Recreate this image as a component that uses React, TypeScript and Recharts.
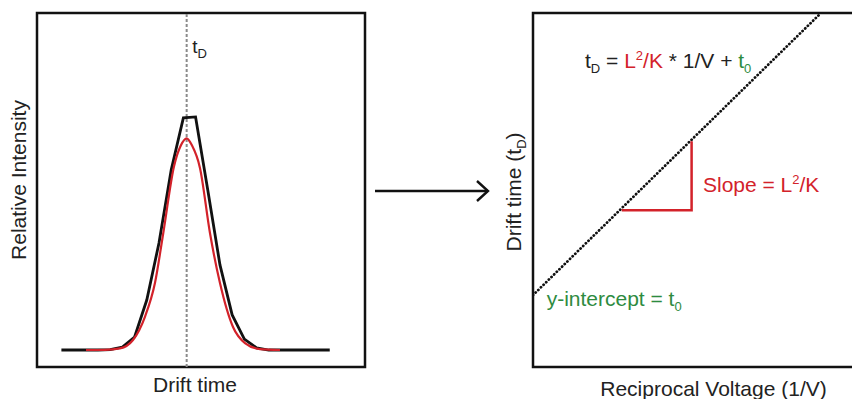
import React from "react";
import {
  LineChart,
  Line,
  XAxis,
  YAxis,
  ReferenceLine,
  ReferenceArea,
  ReferenceDot,
} from "recharts";

// left panel: drift time distribution (arbitrary units)
const peakTime = [2, 3, 4, 5, 6, 7, 8, 9, 10, 11, 12, 13, 14, 15, 16, 17, 18, 19, 20, 21, 22, 23, 24];
const peakMeasured = [0, 0, 0, 0, 0.002, 0.013, 0.056, 0.215, 0.46, 0.774, 0.998, 1.002, 0.688, 0.366, 0.151, 0.047, 0.009, 0, 0, 0, 0, 0, 0];
const fitTime = [4.02, 5.57, 6.8, 7.87, 8.85, 9.67, 10.35, 11.23, 11.8, 12.27, 12.7, 13.36, 14.18, 15.0, 16.07, 17.05, 18.28, 19.92];
const fitIntensity = [0, 0.001, 0.007, 0.043, 0.143, 0.288, 0.502, 0.789, 0.88, 0.91, 0.88, 0.783, 0.503, 0.288, 0.099, 0.03, 0.004, 0];
const tD = 12.27;

// right panel: drift time vs reciprocal voltage
const recipVoltage = [0, 8.86];
const driftTime = [2.03, 10];
const slopeX = [2.73, 4.88, 4.88];
const slopeY = [4.43, 4.43, 6.38];

const arrowX = [0, 1];
const arrowY = [0, 0];

const FONT = "'Liberation Sans', Arial, sans-serif";
const RED = "#d3222a";
const GREEN = "#2e8b3f";

const measured = peakTime.map((t, i) => ({ t, v: peakMeasured[i] }));
const fitted = fitTime.map((t, i) => ({ t, v: fitIntensity[i] }));
const fitLine = recipVoltage.map((x, i) => ({ x, y: driftTime[i] }));
const slopeTri = slopeX.map((x, i) => ({ x, y: slopeY[i] }));
const arrow = arrowX.map((x, i) => ({ x, y: arrowY[i] }));

// subscript, then whatever follows goes back to the baseline
const Sub = ({ children, fill, after }: any) => (
  <>
    <tspan fontSize={13} dy={5} fill={fill}>{children}</tspan>
    {after ? <tspan dy={-5}>{after}</tspan> : null}
  </>
);

function AxisTitle({ viewBox, text, dx = 0, dy = 0, vertical }: any) {
  if (!viewBox) return null;
  const x = viewBox.x + viewBox.width / 2 + dx;
  const y = viewBox.y + viewBox.height / 2 + dy;
  return (
    <text
      x={x}
      y={y}
      textAnchor="middle"
      fontSize={21}
      fontFamily={FONT}
      fill="#222"
      transform={vertical ? `rotate(-90 ${x} ${y})` : undefined}
    >
      {text}
    </text>
  );
}

function Note({ viewBox, children, fill = "#222", size = 21 }: any) {
  if (!viewBox) return null;
  return (
    <text x={viewBox.x} y={viewBox.y} fontSize={size} fontFamily={FONT} fill={fill}>
      {children}
    </text>
  );
}

function ArrowHead(props: any) {
  const { cx, cy, index } = props;
  if (index !== arrowX.length - 1) return <g key={`a${index}`} />;
  return (
    <path
      key={`a${index}`}
      d={`M${cx - 11},${cy - 10} L${cx},${cy} L${cx - 11},${cy + 10}`}
      stroke="#111"
      strokeWidth={2.4}
      fill="none"
    />
  );
}

export default function App() {
  return (
    <div
      style={{
        position: "absolute",
        left: 0,
        top: 0,
        width: 852,
        height: 399,
        overflow: "hidden",
        background: "#fff",
      }}
    >
      <div style={{ position: "absolute", left: 0, top: 0 }}>
        <LineChart width={380} height={399} margin={{ top: 13, right: 15, bottom: 0, left: 0 }}>
          <XAxis
            dataKey="t"
            type="number"
            domain={[0, 26.89]}
            allowDataOverflow
            height={32}
            tick={false}
            tickLine={false}
            axisLine={false}
            label={<AxisTitle text="Drift time" dx={-6} dy={9} />}
          />
          <YAxis
            type="number"
            domain={[-0.073, 1.449]}
            allowDataOverflow
            width={37}
            tick={false}
            tickLine={false}
            axisLine={false}
            label={<AxisTitle text="Relative Intensity" vertical dy={-10} dx={7} />}
          />
          <ReferenceArea
            x1={0}
            x2={26.89}
            y1={-0.073}
            y2={1.449}
            fill="none"
            stroke="#111"
            strokeWidth={2.5}
            fillOpacity={0}
            ifOverflow="visible"
          />
          <ReferenceLine x={tD} stroke="#8a8a8a" strokeWidth={2} strokeDasharray="3 2" />
          <ReferenceDot
            x={tD + 0.45}
            y={1.277}
            r={0}
            ifOverflow="visible"
            label={
              <Note size={19}>
                t<Sub>D</Sub>
              </Note>
            }
          />
          <Line
            data={measured}
            dataKey="v"
            type="linear"
            stroke="#111"
            strokeWidth={2.8}
            dot={false}
            activeDot={false}
            isAnimationActive={false}
          />
          <Line
            data={fitted}
            dataKey="v"
            type="monotone"
            stroke={RED}
            strokeWidth={2.2}
            dot={false}
            activeDot={false}
            isAnimationActive={false}
          />
        </LineChart>
      </div>

      <div style={{ position: "absolute", left: 370, top: 169 }}>
        <LineChart width={125} height={44} data={arrow} margin={{ top: 12, right: 7, bottom: 12, left: 5 }}>
          <XAxis dataKey="x" type="number" domain={[0, 1]} hide />
          <YAxis type="number" domain={[-1, 1]} hide />
          <Line
            dataKey="y"
            type="linear"
            stroke="#111"
            strokeWidth={2.4}
            dot={ArrowHead}
            activeDot={false}
            isAnimationActive={false}
          />
        </LineChart>
      </div>

      <div style={{ position: "absolute", left: 440, top: 0 }}>
        <LineChart width={418} height={399} margin={{ top: 13, right: 0, bottom: 0, left: 0 }}>
          <XAxis
            dataKey="x"
            type="number"
            domain={[0, 10]}
            allowDataOverflow
            height={32}
            tick={false}
            tickLine={false}
            axisLine={false}
            label={<AxisTitle text="Reciprocal Voltage (1/V)" dx={18} dy={13} />}
          />
          <YAxis
            type="number"
            domain={[0, 10]}
            allowDataOverflow
            width={93}
            tick={false}
            tickLine={false}
            axisLine={false}
            label={
              <AxisTitle
                vertical
                dx={34}
                dy={2}
                text={
                  <>
                    Drift time (t<Sub after=")">D</Sub>
                  </>
                }
              />
            }
          />
          <ReferenceArea
            x1={0}
            x2={10}
            y1={0}
            y2={10}
            fill="none"
            fillOpacity={0}
            stroke="#111"
            strokeWidth={2.5}
            ifOverflow="visible"
          />
          <Line
            data={fitLine}
            dataKey="y"
            type="linear"
            stroke="#111"
            strokeWidth={2.8}
            strokeDasharray="0.1 3.6"
            strokeLinecap="round"
            dot={false}
            activeDot={false}
            isAnimationActive={false}
          />
          <Line
            data={slopeTri}
            dataKey="y"
            type="linear"
            stroke={RED}
            strokeWidth={2.5}
            dot={false}
            activeDot={false}
            isAnimationActive={false}
          />
          <ReferenceDot
            x={1.6}
            y={8.44}
            r={0}
            ifOverflow="visible"
            label={
              <Note>
                t<Sub after=" = ">D</Sub>
                <tspan fill={RED}>L</tspan>
                <tspan fill={RED} fontSize={13} dy={-8}>2</tspan>
                <tspan fill={RED} dy={8}>/K</tspan> * 1/V +{" "}
                <tspan fill={GREEN}>t</tspan>
                <Sub fill={GREEN}>0</Sub>
              </Note>
            }
          />
          <ReferenceDot
            x={5.23}
            y={4.93}
            r={0}
            ifOverflow="visible"
            label={
              <Note fill={RED}>
                Slope = L<tspan fontSize={13} dy={-8}>2</tspan>
                <tspan dy={8}>/K</tspan>
              </Note>
            }
          />
          <ReferenceDot
            x={0.42}
            y={1.71}
            r={0}
            ifOverflow="visible"
            label={
              <Note fill={GREEN}>
                y-intercept = t<Sub fill={GREEN}>0</Sub>
              </Note>
            }
          />
        </LineChart>
      </div>
    </div>
  );
}
